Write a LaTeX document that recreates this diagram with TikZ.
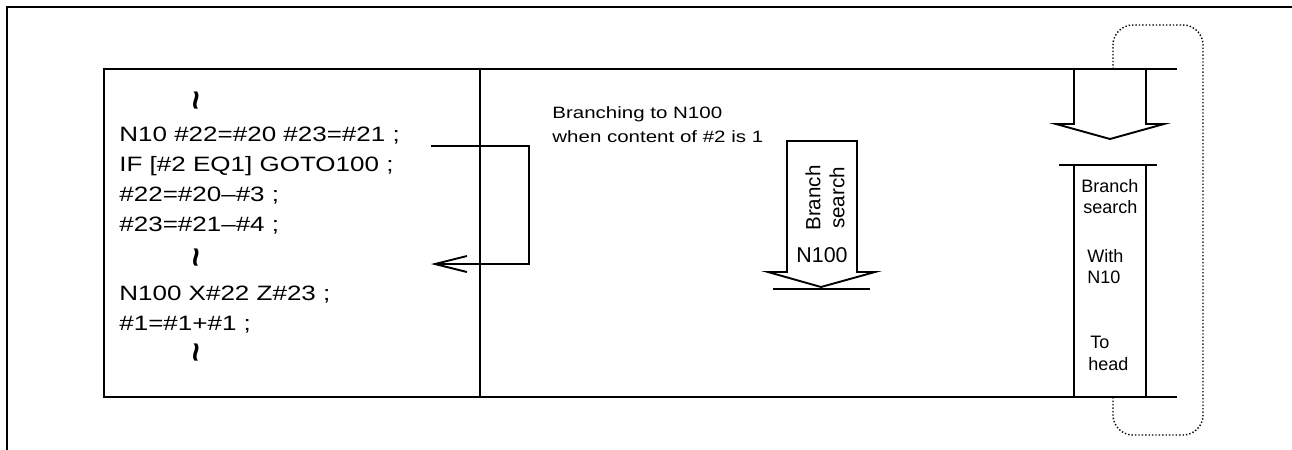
\documentclass[tikz,border=0pt]{standalone}
\usepackage{fontspec}
\setmainfont{Liberation Sans}
\newfontfamily\widefont[FakeStretch=1.25]{Liberation Sans}
\usetikzlibrary{arrows.meta}

\begin{document}
\begin{tikzpicture}[
  x=0.5pt, y=-0.5pt,
  every node/.style={inner sep=0pt},
  code/.style={anchor=base west,font=\widefont\fontsize{10.4}{12}\selectfont},
  wave/.style={rotate=90,font=\bfseries\fontsize{17}{17}\selectfont},
  note/.style={anchor=base west,font=\widefont\fontsize{8.2}{10}\selectfont},
  col/.style={anchor=base west,font=\fontsize{9}{11}\selectfont},
  frame/.style={line width=1.4pt},
  edge/.style={line width=0.95pt}
]
\useasboundingbox (0,0) rectangle (1292,450);
% outer frame and program box
\draw[frame] (7,450) -- (7,7) -- (1292,7);
\draw[edge] (1177,69) -- (104,69) -- (104,397) -- (1177,397);
\draw[edge] (480,69) -- (480,397);
% program text
\node[wave] (w1) at (201,101) {\textasciitilde};
\node[code] (l1) at (119,141) {N10 \#22=\#20 \#23=\#21 ;};
\node[code] (l2) at (119,171) {IF [\#2 EQ1] GOTO100 ;};
\node[code] (l3) at (119,201) {\#22=\#20\textendash\#3 ;};
\node[code] (l4) at (119,231) {\#23=\#21\textendash\#4 ;};
\node[wave] (w2) at (201,258) {\textasciitilde};
\node[code] (l5) at (119,300) {N100 X\#22 Z\#23 ;};
\node[code] (l6) at (119,330) {\#1=\#1+\#1 ;};
\node[wave] (w3) at (201,353) {\textasciitilde};
% jump to N100
\coordinate (jump) at (431,146);
\coordinate (turn) at (529,200);
\coordinate (land) at (431,264);
\draw[edge,-{Straight Barb[length=16pt,width=8pt]}] (jump) -| (turn) |- (land);
\node[note] (b1) at (552,118) {Branching to N100};
\node[note] (b2) at (552,142) {when content of \#2 is 1};
% branch search arrow
\draw[edge] (768,272) -- (787,272) -- (787,141) -- (857,141) -- (857,272)
  -- (875,272) -- (821,287) -- cycle;
\draw[edge] (773,289) -- (870,289);
\node[rotate=90,align=center,font=\fontsize{10.3}{12}\selectfont] (srch) at (825,198) {Branch\\search};
\node[font=\fontsize{10.7}{12}\selectfont] (n100) at (822,255) {N100};
% search from the head
\draw[edge] (1074,69) -- (1074,124) -- (1056,124) -- (1110,139) -- (1164,124)
  -- (1146,124) -- (1146,69);
\draw[edge] (1059,165) -- (1157,165);
\draw[edge] (1074,165) -- (1074,397);
\draw[edge] (1146,165) -- (1146,397);
\draw[densely dotted,line width=0.7pt,rounded corners=10pt] (1113,69) -- (1113,25)
  -- (1203,25) -- (1203,435) -- (1113,435) -- (1113,397);
\node[col] (c1) at (1081,192) {Branch};
\node[col] (c2) at (1083,213) {search};
\node[col] (c3) at (1087,262) {With};
\node[col] (c4) at (1087,283) {N10};
\node[col] (c5) at (1090,348) {To};
\node[col] (c6) at (1088,370) {head};
\end{tikzpicture}
\end{document}
